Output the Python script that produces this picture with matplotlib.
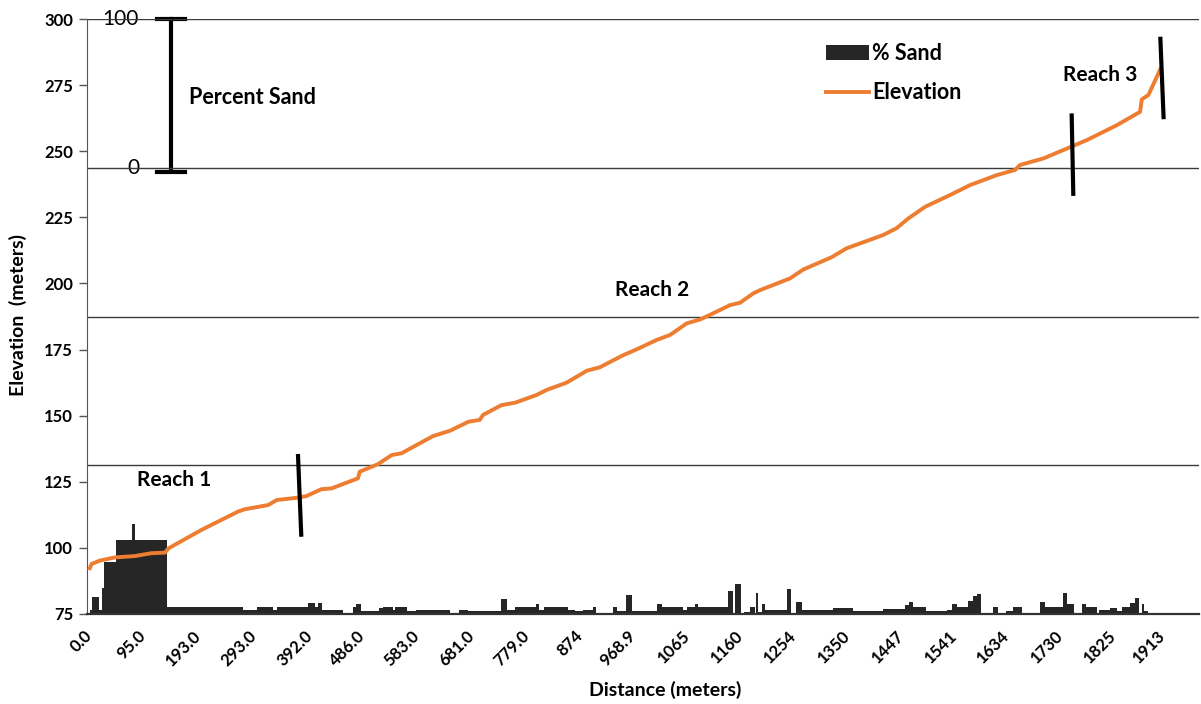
import matplotlib
matplotlib.use("Agg")
import matplotlib.pyplot as plt
from matplotlib.patches import Patch
from matplotlib.lines import Line2D

plt.rcParams["font.family"] = ["Lato", "DejaVu Sans"]

# Channel profile: distance along stream (m) and bed elevation (m)
dist_m = [0, 3, 18, 45, 80, 110, 134, 140, 199, 264,
          276, 318, 333, 371, 386, 413, 431, 478, 481, 514,
          538, 556, 579, 612, 642, 675, 695, 701, 734, 758,
          796, 814, 850, 886, 909, 951, 975, 1010, 1034, 1064,
          1088, 1111, 1141, 1159, 1183, 1195, 1248, 1272, 1322, 1349,
          1414, 1438, 1459, 1489, 1533, 1569, 1617, 1649, 1658, 1700,
          1747, 1777, 1831, 1872, 1875, 1887, 1908]
elev_m = [92.3, 93.9, 95.2, 96.4, 96.9, 98.0, 98.2, 99.8, 106.8, 113.7,
          114.6, 116.2, 118.1, 119.0, 119.6, 122.2, 122.5, 126.3, 128.8, 131.7,
          135.1, 135.8, 138.5, 142.3, 144.3, 147.7, 148.4, 150.3, 154.0, 154.9,
          157.8, 159.7, 162.5, 167.0, 168.3, 172.9, 175.1, 178.6, 180.5, 184.9,
          186.4, 188.7, 191.8, 192.7, 196.3, 197.5, 201.9, 205.3, 209.9, 213.3,
          218.3, 220.9, 224.6, 229.0, 233.4, 237.2, 241.0, 242.9, 244.8, 247.3,
          251.5, 254.2, 259.9, 264.9, 269.6, 271.3, 281.0]

# Percent sand along the reach, as steps between sample edges (m)
sand_edges = [0, 4, 16, 21, 25, 46, 75, 80, 137, 273, 298, 326, 333, 389, 401,
              407, 414, 451, 469, 474, 483, 515, 522, 540, 544, 565, 581, 642,
              658, 674, 733, 744, 758, 795, 801, 809, 852, 865, 879, 897, 902,
              932, 940, 956, 966, 1011, 1020, 1057, 1064, 1079, 1084, 1138,
              1146, 1150, 1161, 1166, 1177, 1186, 1188, 1191, 1198, 1204, 1243,
              1250, 1259, 1270, 1325, 1360, 1414, 1453, 1460, 1467, 1491, 1528,
              1537, 1546, 1565, 1574, 1582, 1589, 1610, 1619, 1633, 1646, 1662,
              1694, 1703, 1735, 1742, 1754, 1769, 1776, 1787, 1796, 1799, 1819,
              1831, 1840, 1854, 1863, 1870, 1876, 1879, 1886, 1911]
sand_pct = [3, 11.5, 3, 17.5, 35, 50, 60.5, 50, 5, 2.7, 4.5, 2.7, 4.5, 7.4,
            4.5, 7.4, 3, 0, 5, 7, 2, 4, 4.5, 2.5, 4.5, 2, 3, 0.5, 3, 2, 10,
            2.5, 4.5, 7, 2.5, 4.5, 3, 2, 3, 5, 0.5, 4.5, 2, 13, 2, 7, 4.5, 3,
            4.5, 7, 4.5, 15.7, 0, 20, 0, 1.5, 5, 0, 14, 1.5, 7, 3, 17, 0, 8, 3,
            4, 2, 3.5, 6, 8, 4.5, 2, 3, 7, 4.5, 8.7, 12, 13.5, 0, 5, 0, 2, 4.5,
            0.5, 8, 4.5, 14, 7, 0, 7, 5, 4.5, 0, 2.5, 4, 2, 5, 7.5, 11, 0, 7,
            2, 1]

tick_dist = [0, 95, 193, 293, 392, 486, 583, 681, 779, 874, 968.9, 1065,
             1160, 1254, 1350, 1447, 1541, 1634, 1730, 1825, 1913]
tick_text = ["0.0", "95.0", "193.0", "293.0", "392.0", "486.0", "583.0",
             "681.0", "779.0", "874", "968.9", "1065", "1160", "1254", "1350",
             "1447", "1541", "1634", "1730", "1825", "1913"]

# reach boundaries drawn as short tilted bars: (x0, x1), (y0, y1)
reach_breaks = [((371, 377), (135.5, 104.2)),
                ((1750, 1753), (264.3, 233.1)),
                ((1908, 1914), (293.3, 262.1))]

panel_lines = [131.25, 187.5, 243.75, 300]

orange = "#ED7D31"
bar_color = "#262626"

fig = plt.figure(figsize=(12.01, 7.04), dpi=100)
ax = fig.add_axes([87 / 1201, 1 - 614 / 704, 1112 / 1201, 595 / 704])
ax2 = ax.twinx()

# sand bars on their own scale: 100 % fills one quarter panel
ax2.stairs(sand_pct, sand_edges, fill=True, color=bar_color, baseline=0, lw=0)
ax2.set_ylim(0, 400)
ax2.axis("off")

ax.set_zorder(ax2.get_zorder() + 1)
ax.patch.set_visible(False)

for y in panel_lines:
    ax.axhline(y, color="#3a3a3a", lw=1.0, zorder=1)

ax.plot(dist_m, elev_m, color=orange, lw=2.8, zorder=3)

for xs, ys in reach_breaks:
    ax.plot(xs, ys, color="black", lw=3.0, solid_capstyle="butt", zorder=4)

ax.set_xlim(-5, 1977)
ax.set_ylim(75, 300)
ax.set_yticks(range(75, 301, 25))
ax.set_xticks(tick_dist)
ax.set_xticklabels(tick_text, rotation=45, ha="right", va="center",
                   rotation_mode="anchor")
ax.tick_params(axis="x", length=0, pad=14, labelsize=12)
ax.tick_params(axis="y", length=6, width=1, color="#555555", labelsize=12,
               pad=4)
for lbl in ax.get_xticklabels() + ax.get_yticklabels():
    lbl.set_fontweight("bold")

for side in ["top", "right"]:
    ax.spines[side].set_visible(False)
ax.spines["left"].set_color("#555555")
ax.spines["bottom"].set_color("#333333")
ax.spines["bottom"].set_linewidth(1.6)

# percent sand scale bar in the top panel
bar_x = 144
ax2.plot([bar_x, bar_x], [298, 400], color="black", lw=3.0, clip_on=False)
ax2.plot([bar_x - 25, bar_x + 25], [400, 400], color="black", lw=3.0,
         clip_on=False)
ax2.plot([bar_x - 25, bar_x + 25], [297, 297], color="black", lw=3.0,
         clip_on=False)
ax2.text(54, 400, "100", fontsize=15, ha="center", va="center")
ax2.text(77, 300, "0", fontsize=15, ha="center", va="center")
ax2.text(176, 347, "Percent Sand", fontsize=15.5, fontweight="bold",
         ha="left", va="center")

ax.text(151, 125.7, "Reach 1", fontsize=15, fontweight="bold",
        ha="center", va="center")
ax.text(1002, 197.5, "Reach 2", fontsize=15, fontweight="bold",
        ha="center", va="center")
ax.text(1801, 278.8, "Reach 3", fontsize=15, fontweight="bold",
        ha="center", va="center")

handles = [Patch(facecolor=bar_color, edgecolor="none"),
           Line2D([], [], color=orange, lw=2.8)]
fig.legend(handles, ["% Sand", "Elevation"], loc="upper left",
           bbox_to_anchor=(826 / 1201, 1 - 43 / 704), frameon=False,
           prop={"size": 15.5, "weight": "bold"}, handlelength=2.0,
           handletextpad=0.15, labelspacing=0.85, borderpad=0,
           borderaxespad=0)

fig.text(18 / 1201, 1 - 315 / 704, "Elevation  (meters)", rotation=90,
         fontsize=14, fontweight="bold", ha="center", va="center")
fig.text(665 / 1201, 1 - 690 / 704, "Distance (meters)", fontsize=14,
         fontweight="bold", ha="center", va="center")

fig.savefig("out.png", dpi=100)
